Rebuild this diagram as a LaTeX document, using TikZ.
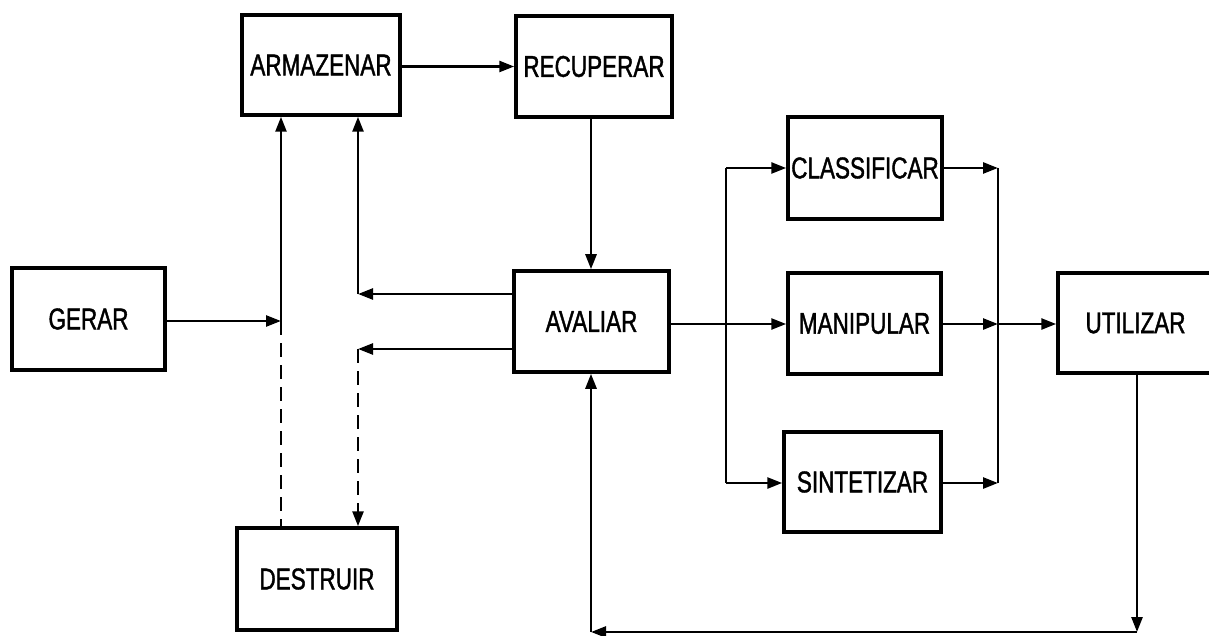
\documentclass[tikz,border=0pt]{standalone}
\usepackage{fontspec}
\newfontfamily\lblfont{Liberation Sans}[FakeStretch=0.75,FakeBold=1.3]
\usetikzlibrary{arrows.meta}
\begin{document}
\begin{tikzpicture}[x=1pt,y=-1pt,
  box/.style={draw, line width=3.5pt, inner sep=0pt, font=\lblfont\fontsize{30}{34}\selectfont},
  conn/.style={line width=2.6pt},
  tip/.style={-{Triangle[length=15pt,width=11pt]}},
  arr/.style={conn, tip},
  dashline/.style={conn, dash pattern=on 14pt off 8pt}]
\useasboundingbox (0,0) rectangle (1209,636);
\clip (0,0) rectangle (1209,636);
% boxes
\node[box, minimum width=153pt, minimum height=102pt] (gerar) at (88.5,319) {GERAR};
\node[box, minimum width=158pt, minimum height=100pt] (arm) at (321,65) {ARMAZENAR};
\node[box, minimum width=156pt, minimum height=101pt] (rec) at (594,66.5) {RECUPERAR};
\node[box, minimum width=155pt, minimum height=101pt] (aval) at (591.5,321.5) {AVALIAR};
\node[box, minimum width=160pt, minimum height=102pt] (dest) at (317,579) {DESTRUIR};
\node[box, minimum width=154pt, minimum height=102pt] (class) at (865,168) {CLASSIFICAR};
\node[box, minimum width=153pt, minimum height=101pt] (manip) at (864.5,323.5) {MANIPULAR};
\node[box, minimum width=157pt, minimum height=100pt] (sint) at (862.5,482) {SINTETIZAR};
\node[box, minimum width=155pt, minimum height=100pt] (util) at (1135.5,323) {UTILIZAR};
% junction coordinates
\coordinate (j1) at (281,321);
\coordinate (c1) at (358,294);
\coordinate (c2) at (358,349);
\coordinate (s) at (726,324);
\coordinate (s1) at (726,168);
\coordinate (s3) at (726,483);
\coordinate (m1) at (998,168);
\coordinate (m2) at (998,324);
\coordinate (m3) at (998,483);
\coordinate (b1) at (1137,632);
\coordinate (b2) at (591,632);
% left part
\draw[arr] (gerar.east |- j1) -- (j1);
\draw[arr] (j1) -- (arm.south -| j1);
\draw[dashline] (j1) -- (dest.north -| j1);
\draw[arr] (aval.west |- c1) -- (c1);
\draw[arr] (c1) -- (arm.south -| c1);
\draw[arr] (aval.west |- c2) -- (c2);
\draw[dashline, tip] (c2) -- (dest.north -| c2);
\draw[arr] (arm.east |- rec.west) -- (rec.west);
\draw[arr] (rec.south -| b2) -- (aval.north -| b2);
% right part
\draw[arr] (aval.east |- s) -- (manip.west |- s);
\draw[conn] (s1) -- (s3);
\draw[arr] (s1) -- (class.west |- s1);
\draw[arr] (s3) -- (sint.west |- s3);
\draw[conn] (m1) -- (m3);
\draw[arr] (class.east |- m1) -- (m1);
\draw[arr] (manip.east |- m2) -- (m2);
\draw[arr] (sint.east |- m3) -- (m3);
\draw[arr] (m2) -- (util.west |- m2);
% feedback
\draw[arr] (util.south -| b1) -- (b1);
\draw[arr] (b1) -- (b2);
\draw[arr] (b2) -- (aval.south -| b2);
\end{tikzpicture}
\end{document}
